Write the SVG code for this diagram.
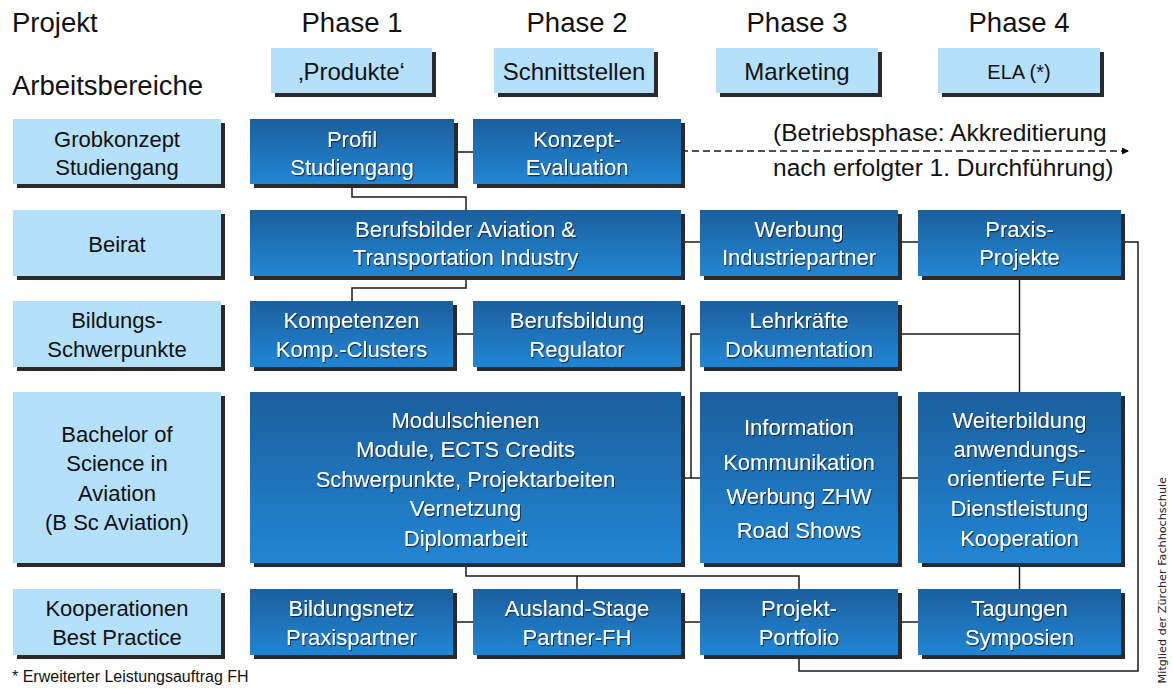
<svg xmlns="http://www.w3.org/2000/svg" width="1173" height="689" viewBox="0 0 1173 689">
<defs>
<linearGradient id="dg" x1="0" y1="0" x2="0" y2="1">
<stop offset="0" stop-color="#1b5f9d"/>
<stop offset="1" stop-color="#2286d4"/>
</linearGradient>
<filter id="ts" x="-5%" y="-20%" width="110%" height="140%">
<feDropShadow dx="1" dy="1.2" stdDeviation="0.4" flood-color="#0b2440" flood-opacity="0.9"/>
</filter>
<marker id="ah" viewBox="0 0 10 10" refX="10" refY="5" markerWidth="8" markerHeight="7" markerUnits="userSpaceOnUse" orient="auto">
<path d="M0,0 L10,5 L0,10 Z" fill="#000"/>
</marker>
<style>
.sh{fill:#2a2a2a}
.lb{fill:#b5e0fc}
.db{fill:url(#dg)}
.hd{font-family:"Liberation Sans",Arial,sans-serif;font-size:27.5px;fill:#111}
.pt{font-family:"Liberation Sans",Arial,sans-serif;font-size:24px;fill:#111;text-anchor:middle}
.lt{font-family:"Liberation Sans",Arial,sans-serif;font-size:22px;fill:#111;text-anchor:middle}
.wt{font-family:"Liberation Sans",Arial,sans-serif;font-size:22px;fill:#fff;text-anchor:middle;filter:url(#ts)}
.ct{fill:none;stroke:#1a1a1a;stroke-width:1.5}
.nt{font-family:"Liberation Sans",Arial,sans-serif;font-size:24.5px;fill:#111}
</style>
</defs>
<rect width="1173" height="689" fill="#fff"/>

<g id="headers">
<text class="hd" x="12" y="32">Projekt</text>
<text class="hd" x="12" y="95">Arbeitsbereiche</text>
<text class="hd" x="352" y="32" text-anchor="middle">Phase 1</text>
<text class="hd" x="577" y="32" text-anchor="middle">Phase 2</text>
<text class="hd" x="797" y="32" text-anchor="middle">Phase 3</text>
<text class="hd" x="1019" y="32" text-anchor="middle">Phase 4</text>
</g>

<g id="connectors">
<path class="ct" d="M454 152 H473"/>
<path class="ct" d="M681 151 H1129" stroke-dasharray="7 4" marker-end="url(#ah)"/>
<path class="ct" d="M352 184 V197 H466 V210"/>
<path class="ct" d="M681 242 H700"/>
<path class="ct" d="M898 242 H918"/>
<path class="ct" d="M1121 242 H1138 V671 H799 V655"/>
<path class="ct" d="M466 276 V288 H352 V301"/>
<path class="ct" d="M453 334 H473"/>
<path class="ct" d="M700 334 H691 V478"/>
<path class="ct" d="M898 334 H1019.5"/>
<path class="ct" d="M1019.5 276 V392"/>
<path class="ct" d="M681 478 H700"/>
<path class="ct" d="M898 478 H918"/>
<path class="ct" d="M466 563 V576 H799 V589"/>
<path class="ct" d="M577 576 V589"/>
<path class="ct" d="M1019.5 563 V589"/>
<path class="ct" d="M453 622 H473"/>
<path class="ct" d="M681 622 H700"/>
<path class="ct" d="M898 622 H918"/>
</g>

<g id="phase1"><rect class="sh" x="275" y="52" width="161" height="45"/><rect class="lb" x="271" y="48" width="161" height="45"/><text class="pt" x="351.5" y="80">‚Produkte‘</text></g>
<g id="phase2"><rect class="sh" x="498" y="52" width="160" height="45"/><rect class="lb" x="494" y="48" width="160" height="45"/><text class="pt" x="574" y="80">Schnittstellen</text></g>
<g id="phase3"><rect class="sh" x="720" y="52" width="162" height="45"/><rect class="lb" x="716" y="48" width="162" height="45"/><text class="pt" x="797" y="80">Marketing</text></g>
<g id="phase4"><rect class="sh" x="942" y="52" width="162" height="45"/><rect class="lb" x="938" y="48" width="162" height="45"/><text class="pt" x="1019" y="79" style="font-size:20px">ELA (*)</text></g>

<g id="l1"><rect class="sh" x="17" y="123" width="208" height="65"/><rect class="lb" x="13" y="119" width="208" height="65"/><text class="lt" x="117" y="147">Grobkonzept</text><text class="lt" x="117" y="175">Studiengang</text></g>
<g id="l2"><rect class="sh" x="17" y="214" width="208" height="66"/><rect class="lb" x="13" y="210" width="208" height="66"/><text class="lt" x="117" y="251.5">Beirat</text></g>
<g id="l3"><rect class="sh" x="17" y="305" width="208" height="66"/><rect class="lb" x="13" y="301" width="208" height="66"/><text class="lt" x="117" y="328">Bildungs-</text><text class="lt" x="117" y="356.5">Schwerpunkte</text></g>
<g id="l4"><rect class="sh" x="17" y="396" width="208" height="171"/><rect class="lb" x="13" y="392" width="208" height="171"/><text class="lt" x="117" y="441.5">Bachelor of</text><text class="lt" x="117" y="471">Science in</text><text class="lt" x="117" y="500.5">Aviation</text><text class="lt" x="117" y="530">(B Sc Aviation)</text></g>
<g id="l5"><rect class="sh" x="17" y="593" width="208" height="66"/><rect class="lb" x="13" y="589" width="208" height="66"/><text class="lt" x="117" y="616">Kooperationen</text><text class="lt" x="117" y="645">Best Practice</text></g>

<g id="profil"><rect class="sh" x="254" y="123" width="204" height="65"/><rect class="db" x="250" y="119" width="204" height="65"/><text class="wt" x="352" y="147">Profil</text><text class="wt" x="352" y="175">Studiengang</text></g>
<g id="konzept"><rect class="sh" x="477" y="123" width="208" height="65"/><rect class="db" x="473" y="119" width="208" height="65"/><text class="wt" x="577" y="147">Konzept-</text><text class="wt" x="577" y="175">Evaluation</text></g>
<g id="betrieb-note"><text class="nt" x="773" y="141">(Betriebsphase: Akkreditierung</text><text class="nt" x="773" y="176">nach erfolgter 1. Durchführung)</text></g>

<g id="berufsbilder"><rect class="sh" x="254" y="214" width="431" height="66"/><rect class="db" x="250" y="210" width="431" height="66"/><text class="wt" x="465.5" y="237">Berufsbilder Aviation &amp;</text><text class="wt" x="465.5" y="265">Transportation Industry</text></g>
<g id="werbung"><rect class="sh" x="704" y="214" width="198" height="66"/><rect class="db" x="700" y="210" width="198" height="66"/><text class="wt" x="799" y="237">Werbung</text><text class="wt" x="799" y="265">Industriepartner</text></g>
<g id="praxis"><rect class="sh" x="922" y="214" width="203" height="66"/><rect class="db" x="918" y="210" width="203" height="66"/><text class="wt" x="1019.5" y="237">Praxis-</text><text class="wt" x="1019.5" y="265">Projekte</text></g>

<g id="kompetenzen"><rect class="sh" x="254" y="305" width="203" height="66"/><rect class="db" x="250" y="301" width="203" height="66"/><text class="wt" x="351.5" y="328">Kompetenzen</text><text class="wt" x="351.5" y="356.5">Komp.-Clusters</text></g>
<g id="berufsbildung"><rect class="sh" x="477" y="305" width="208" height="66"/><rect class="db" x="473" y="301" width="208" height="66"/><text class="wt" x="577" y="328">Berufsbildung</text><text class="wt" x="577" y="356.5">Regulator</text></g>
<g id="lehrkraefte"><rect class="sh" x="704" y="305" width="198" height="66"/><rect class="db" x="700" y="301" width="198" height="66"/><text class="wt" x="799" y="328">Lehrkräfte</text><text class="wt" x="799" y="356.5">Dokumentation</text></g>

<g id="modul"><rect class="sh" x="254" y="396" width="431" height="171"/><rect class="db" x="250" y="392" width="431" height="171"/><text class="wt" x="465.5" y="427.5">Modulschienen</text><text class="wt" x="465.5" y="457">Module, ECTS Credits</text><text class="wt" x="465.5" y="486.5">Schwerpunkte, Projektarbeiten</text><text class="wt" x="465.5" y="516">Vernetzung</text><text class="wt" x="465.5" y="545.5">Diplomarbeit</text></g>
<g id="information"><rect class="sh" x="704" y="396" width="198" height="171"/><rect class="db" x="700" y="392" width="198" height="171"/><text class="wt" x="799" y="435">Information</text><text class="wt" x="799" y="469.5">Kommunikation</text><text class="wt" x="799" y="504">Werbung ZHW</text><text class="wt" x="799" y="537.5">Road Shows</text></g>
<g id="weiterbildung"><rect class="sh" x="922" y="396" width="203" height="171"/><rect class="db" x="918" y="392" width="203" height="171"/><text class="wt" x="1019.5" y="428">Weiterbildung</text><text class="wt" x="1019.5" y="457">anwendungs-</text><text class="wt" x="1019.5" y="486">orientierte FuE</text><text class="wt" x="1019.5" y="516">Dienstleistung</text><text class="wt" x="1019.5" y="545.5">Kooperation</text></g>

<g id="bildungsnetz"><rect class="sh" x="254" y="593" width="203" height="66"/><rect class="db" x="250" y="589" width="203" height="66"/><text class="wt" x="351.5" y="616">Bildungsnetz</text><text class="wt" x="351.5" y="645">Praxispartner</text></g>
<g id="ausland"><rect class="sh" x="477" y="593" width="208" height="66"/><rect class="db" x="473" y="589" width="208" height="66"/><text class="wt" x="577" y="616">Ausland-Stage</text><text class="wt" x="577" y="645">Partner-FH</text></g>
<g id="projekt"><rect class="sh" x="704" y="593" width="198" height="66"/><rect class="db" x="700" y="589" width="198" height="66"/><text class="wt" x="799" y="616">Projekt-</text><text class="wt" x="799" y="645">Portfolio</text></g>
<g id="tagungen"><rect class="sh" x="922" y="593" width="203" height="66"/><rect class="db" x="918" y="589" width="203" height="66"/><text class="wt" x="1019.5" y="616">Tagungen</text><text class="wt" x="1019.5" y="645">Symposien</text></g>

<g id="footer">
<text x="12" y="682" style="font-family:'Liberation Sans',Arial,sans-serif;font-size:16px;fill:#111">* Erweiterter Leistungsauftrag FH</text>
<text transform="translate(1166,477) rotate(-90)" text-anchor="end" style="font-family:'DejaVu Sans',sans-serif;font-size:11.2px;fill:#222">Mitglied der Zürcher Fachhochschule</text>
</g>
</svg>
